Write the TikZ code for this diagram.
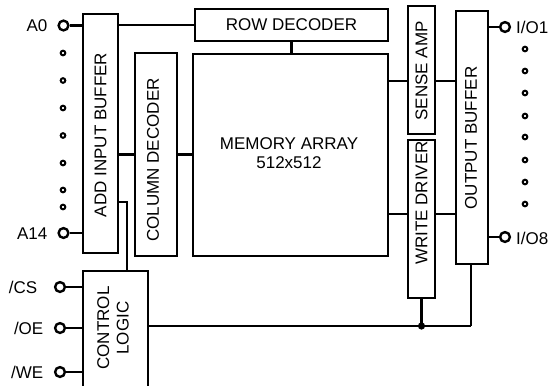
\documentclass[tikz,border=0pt]{standalone}
\usepackage{fontspec}
\setmainfont{Liberation Sans}
\begin{document}
\begin{tikzpicture}[x=1bp,y=-1bp,
  every node/.style={font=\fontsize{17bp}{19.5bp}\selectfont, inner sep=0pt},
  box/.style={draw, line width=2.4bp, rectangle, minimum width=#1},
  pinc/.style={draw, circle, line width=2.4bp, minimum size=9.8bp, fill=white},
  dotc/.style={draw, circle, line width=2bp, minimum size=4.6bp},
  wire/.style={line width=2.4bp}
]
\useasboundingbox (0,0) rectangle (560,385);
% boxes
\node[box=35bp, minimum height=239bp] (buf) at (100.5,133.5) {};
\node[rotate=90] at (100.5,135) {ADD INPUT BUFFER};
\node[box=42bp, minimum height=203bp] (coldec) at (156,154.5) {};
\node[rotate=90] at (153,160) {COLUMN DECODER};
\node[box=195bp, minimum height=202bp] (mem) at (290.5,155) {};
\node[align=center] at (289,153) {MEMORY ARRAY\\512x512};
\node[box=193bp, minimum height=32bp] (row) at (291.5,25) {ROW DECODER};
\node[box=27bp, minimum height=128bp] (sa) at (421.5,70) {};
\node[rotate=90] at (421.5,71) {SENSE AMP};
\node[box=27bp, minimum height=158bp] (wd) at (421.5,219) {};
\node[rotate=90] at (421.5,203) {WRITE DRIVER};
\node[box=32bp, minimum height=253bp] (ob) at (472,137.5) {};
\node[rotate=90] at (471,138) {OUTPUT BUFFER};
\node[box=65bp, minimum height=123bp] (ctl) at (115.5,332.5) {};
\node[rotate=90, align=center] at (113,328) {CONTROL\\LOGIC};
% coordinates
\coordinate (tap) at (127,202);
\coordinate (bus) at (471,326);
\coordinate (ysa) at (0,81);
\coordinate (ywd) at (0,214);
% input pins
\node[pinc] (a0) at (63.5,25.5) {};
\node[anchor=east] at (47.5,26) {A0};
\node[pinc] (a14) at (63.5,233) {};
\node[anchor=east] at (47.5,234) {A14};
\foreach \y in {53,80.5,108,135.5,163,190,207} \node[dotc] at (63,\y) {};
\node[pinc] (cs) at (60,287) {};
\node[anchor=east] at (37.5,287) {/CS};
\node[pinc] (oe) at (60,328) {};
\node[anchor=east] at (43.5,328) {/OE};
\node[pinc] (we) at (60,372) {};
\node[anchor=east] at (43.5,372) {/WE};
% output pins
\node[pinc] (io1) at (505,27) {};
\node[anchor=west] at (516,27) {I/O1};
\node[pinc] (io8) at (505,237) {};
\node[anchor=west] at (516,238) {I/O8};
\foreach \y in {49,71,93,116,137,160,182,204} \node[dotc] at (525,\y) {};
% wires
\draw[wire] (a0) -- (buf.west |- a0);
\draw[wire] (a14) -- (buf.west |- a14);
\draw[wire] (buf.east |- row.west) -- (row.west);
\draw[wire] (row.south) -- (row.south |- mem.north);
\draw[wire] (buf.east |- coldec.west) -- (coldec.west);
\draw[wire] (coldec.east) -- (mem.west |- coldec.east);
\draw[wire] (mem.east |- ysa) -- (sa.west |- ysa);
\draw[wire] (sa.east |- ysa) -- (ob.west |- ysa);
\draw[wire] (mem.east |- ywd) -- (wd.west |- ywd);
\draw[wire] (wd.east |- ywd) -- (ob.west |- ywd);
\draw[wire] (ob.east |- io1) -- (io1);
\draw[wire] (ob.east |- io8) -- (io8);
\draw[wire] (buf.east |- tap) -- (tap) -- (tap |- ctl.north);
\draw[wire] (cs) -- (ctl.west |- cs);
\draw[wire] (oe) -- (ctl.west |- oe);
\draw[wire] (we) -- (ctl.west |- we);
\draw[wire] (ctl.east |- bus) -- (bus);
\draw[wire] (ob.south -| bus) -- (bus);
\draw[wire] (wd.south) -- (wd.south |- bus);
\fill (wd.south |- bus) circle (3.6bp);
\end{tikzpicture}
\end{document}
